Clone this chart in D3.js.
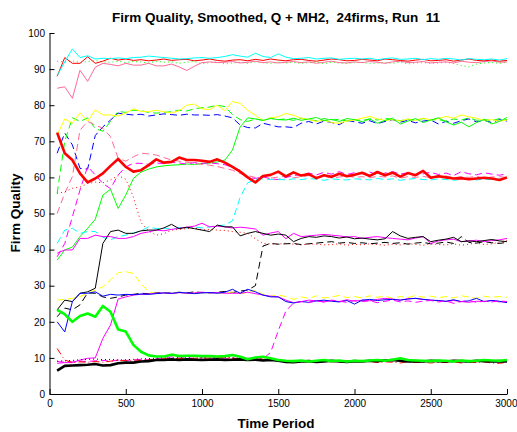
<!DOCTYPE html>
<html><head><meta charset="utf-8">
<script src="https://cdn.jsdelivr.net/npm/d3@7/dist/d3.min.js"></script>
<style>
body{margin:0;background:#fff;}
text{font-family:"Liberation Sans",Arial,Helvetica,sans-serif;}
</style></head>
<body><svg id="chart" width="517" height="432"></svg>
<script>
// ---------- DATA ----------
const timePeriods = [50,100,150,200,250,300,350,400,450,500,550,600,650,700,750,800,850,900,950,1000,
 1050,1100,1150,1200,1250,1300,1350,1400,1450,1500,1550,1600,1650,1700,1750,1800,1850,1900,1950,2000,
 2050,2100,2150,2200,2250,2300,2350,2400,2450,2500,2550,2600,2650,2700,2750,2800,2850,2900,2950,3000];
const xTicks = [0,500,1000,1500,2000,2500,3000];
const yTicks = [0,10,20,30,40,50,60,70,80,90,100];

const cyanSolid = [88.2,92.0,95.6,93.2,93.7,92.8,93.0,92.9,93.1,92.9, 93.2,93.3,93.6,93.4,93.2,93.0,92.8,92.9,93.1,93.2,
 93.0,93.2,93.5,94.0,93.6,93.3,94.4,93.5,93.2,94.2, 93.3,92.9,93.0,93.2,92.8,93.0,93.1,92.7,92.9,93.0,
 92.8,93.0,92.6,92.9,93.1,92.7,92.8,93.0,92.6,92.9, 92.7,93.0,92.8,92.5,92.9,92.7,92.6,92.8,92.5,92.9];
const redSolid = [88.0,93.2,91.6,91.6,93.4,91.6,92.2,93.0,92.5,92.8, 92.4,92.6,92.3,92.5,92.8,92.4,92.6,92.7,92.3,92.5,
 92.8,92.4,92.2,92.5,92.6,92.3,92.7,92.4,92.8,92.5, 92.3,92.6,92.7,92.4,92.2,92.5,92.8,92.6,92.3,92.4,
 92.7,92.5,92.3,92.8,92.6,92.4,92.2,92.5,92.7,92.3, 92.4,92.6,92.2,92.5,92.8,92.4,92.3,92.5,92.2,92.4];
const pinkSolid = [84.7,85.1,81.9,89.7,86.6,90.5,91.6,91.3,90.9,91.6, 91.1,91.1,91.6,90.9,90.9,91.4,90.6,89.6,90.8,91.8,
 92.0,91.8,91.9,92.1,91.7,91.9,92.2,91.8,92.0,91.7, 91.9,92.1,91.8,92.0,91.6,91.9,92.2,91.8,91.7,92.0,
 91.8,92.1,91.9,91.6,92.0,92.2,91.8,91.9,92.1,91.7, 91.9,92.0,91.7,92.2,91.9,91.8,92.1,92.3,91.9,92.0];
const greenDotted = [92.2,92.0,92.3,91.8,92.1,92.4,92.0,91.9,92.2,91.8, 92.1,92.0,91.7,92.2,91.9,92.0,91.6,91.9,92.1,91.5,
 91.8,92.0,91.4,91.7,91.9,91.6,92.0,91.8,91.5,91.9, 91.7,91.9,91.6,91.8,92.0,91.5,91.9,91.7,91.6,91.8,
 91.9,91.5,91.7,91.8,91.6,91.9,91.4,91.7,91.8,91.6, 91.7,91.9,91.5,91.0,90.6,91.4,91.7,91.8,91.6,91.9];

const yellowSolid = [71.7,76.2,75.0,77.9,75.5,78.7,77.3,77.3,77.0,77.8, 79.0,78.3,78.2,78.6,78.2,77.8,78.5,80.0,80.3,79.0,
 78.8,80.0,78.5,81.0,80.5,78.6,77.2,75.7,76.5,76.8, 77.7,77.2,76.4,76.0,75.5,75.8,75.2,75.0,75.6,75.9,
 76.4,76.9,76.2,75.8,76.0,75.6,76.2,75.8,76.4,75.9, 76.3,76.9,76.4,77.3,76.8,76.4,75.8,76.0,75.6,75.9];
const greenDashed = [55.6,70.0,76.5,75.5,76.5,73.5,72.8,75.5,78.3,78.0, 78.6,78.5,78.0,77.8,78.0,78.2,78.6,78.4,79.0,79.3,
 79.5,80.0,79.6,77.4,76.0,75.5,76.2,75.8,76.5,76.0, 76.2,75.8,76.4,76.0,75.7,76.3,75.9,76.1,75.6,76.0,
 75.8,76.2,75.9,76.4,76.0,75.7,76.1,75.8,76.3,75.9, 76.0,75.6,76.2,75.9,76.5,75.8,76.1,75.7,76.3,76.0];
const blueDashed = [66.7,72.3,69.0,62.5,62.3,71.6,74.0,75.9,77.8,77.5, 77.3,77.5,77.0,77.3,77.6,77.4,77.2,77.5,77.3,77.3,
 77.2,77.4,77.0,76.5,74.5,73.8,73.7,75.0,74.5,74.0, 74.0,73.8,75.0,75.5,74.8,75.6,75.2,74.6,75.8,75.4,
 75.0,75.7,74.9,75.5,76.0,75.3,75.8,75.1,75.6,75.9, 74.8,75.5,75.0,75.7,76.2,75.4,75.8,75.2,76.0,75.6];
const greenSolid = [37.1,39.9,40.7,43.6,45.9,48.4,55.1,56.7,51.4,55.1, 59.7,61.5,62.3,62.9,63.2,63.4,63.5,63.7,63.6,63.8,
 64.0,64.3,64.8,67.6,74.0,76.5,76.2,75.8,76.3,76.0, 75.9,76.4,75.8,76.2,76.6,75.7,76.1,75.5,76.3,76.0,
 75.4,76.2,75.0,75.8,76.4,74.8,75.6,76.3,75.2,75.9, 76.5,75.4,74.5,75.3,74.0,75.2,76.0,74.8,75.5,76.6];

const redThick = [72.4,66.7,64.8,61.1,58.6,59.7,61.1,63.2,65.1,62.9, 61.6,62.0,63.4,65.0,64.1,64.3,65.5,64.8,64.8,64.6,
 64.3,65.0,64.1,62.9,61.6,60.0,58.6,60.4,60.7,61.6, 60.3,61.4,60.5,60.9,59.8,60.6,60.2,61.0,60.3,60.7,
 61.3,60.4,61.5,60.6,61.3,60.2,61.2,60.6,61.8,59.9, 60.3,60.0,59.7,59.8,59.5,59.7,59.9,59.7,59.3,60.0];
const magentaDashedA = [38.0,41.7,49.1,56.5,63.0,60.7,58.3,56.9,60.7,62.9, 63.9,63.9,63.6,64.0,63.8,64.2,64.0,63.7,64.1,63.9,
 64.0,63.8,63.5,62.8,62.0,60.0,59.7,60.2,59.6,59.4, 60.0,60.5,60.8,61.2,60.7,61.4,60.9,61.6,60.8,61.3,
 61.0,61.5,60.7,61.2,61.6,60.9,61.3,60.6,61.0,61.4, 60.8,61.2,60.5,61.6,61.0,60.7,61.3,60.9,60.6,61.0];
const cyanDashed = [41.7,45.4,45.9,44.5,45.0,45.0,43.4,42.7,43.6,44.0, 44.6,45.2,46.3,45.8,46.0,45.6,46.1,45.9,46.3,46.0,
 46.3,46.6,46.8,48.0,54.5,58.5,59.5,59.6,59.4,59.5, 59.3,59.6,59.4,59.7,59.5,59.2,59.6,59.4,59.3,59.6,
 59.5,59.3,59.7,59.4,59.6,59.2,59.5,59.7,59.4,59.3, 59.6,59.4,59.2,59.5,59.7,59.3,59.5,59.4,59.6,59.5];
const pinkDashed = [50.0,55.6,60.2,73.1,75.5,74.5,73.6,71.3,65.3,64.5, 65.7,66.7,66.5,66.2,65.5,64.8,64.5,64.2,63.9,63.6,
 63.4,63.0,62.5,62.0,61.1,60.5,60.0,60.2,59.8,60.1, 60.3,59.9,60.2,60.5,60.0,60.3,59.8,60.1,60.4,60.0,
 60.2,59.9,60.3,60.1,60.4,59.8,60.2,60.0,60.3,59.9, 60.1,60.4,59.9,60.2,60.0,60.3,59.8,60.1,60.2,60.0];

const blackSolid = [23.3,26.0,25.6,27.9,28.3,29.3,41.7,45.0,45.4,44.5, 44.5,45.2,45.4,45.4,46.0,47.0,45.8,46.2,45.8,45.4,
 45.0,46.8,46.3,46.3,43.8,44.5,45.0,44.5,44.0,44.3, 44.0,42.2,43.1,43.6,43.4,43.8,43.6,43.2,43.5,43.0,
 43.2,42.9,42.7,43.0,45.0,43.8,43.1,43.4,43.6,42.2, 42.6,42.9,43.4,42.2,42.4,42.2,42.5,42.8,42.4,42.2];
const magentaSolidA = [39.0,39.9,39.9,43.1,43.1,44.0,43.6,43.6,43.1,43.1, 43.6,44.5,44.9,45.4,45.2,45.6,45.9,46.2,46.5,47.3,
 46.3,46.5,46.3,46.0,46.2,46.0,45.7,44.0,44.6,45.0, 43.0,44.5,43.6,43.8,44.0,44.2,44.0,43.8,43.5,43.6,
 43.1,43.4,43.6,43.3,43.1,42.9,42.7,43.2,43.6,41.7, 42.4,42.7,42.9,42.2,42.4,42.6,42.2,42.5,42.7,43.1];
const redDotted = [55.6,56.0,57.0,57.3,58.3,58.7,58.5,59.3,60.5,59.5, 54.6,47.5,45.2,44.0,44.4,45.4,45.6,45.8,46.0,45.5,
 45.6,45.4,45.3,45.0,44.8,44.5,43.0,41.7,41.6,41.5, 41.8,41.5,41.3,41.6,41.5,41.3,41.4,41.6,41.2,41.5,
 41.3,41.6,41.4,41.2,41.5,41.3,41.7,41.4,41.2,41.6, 41.4,41.3,41.6,41.2,41.5,41.8,41.4,41.6,42.0,42.6];
const blackDashed = [21.4,23.8,23.3,24.7,28.0,27.9,26.9,26.5,26.9,27.4, 27.6,27.9,27.8,28.0,28.1,27.9,28.2,28.0,28.3,28.1,
 28.0,28.2,28.4,28.1,28.5,28.8,30.0,41.0,41.7,41.5, 41.6,41.7,41.4,41.6,41.8,42.0,42.2,41.8,42.0,41.7,
 41.9,41.6,41.8,42.0,41.7,41.9,41.5,41.8,42.0,41.6, 41.8,42.1,41.7,43.6,42.0,41.8,42.2,41.9,41.7,42.0];

const blueSolid = [20.0,17.2,25.6,27.9,27.9,28.3,27.1,27.6,27.4,27.6, 27.5,27.7,27.6,27.8,28.0,27.9,28.1,28.0,27.8,28.0,
 28.1,27.9,28.2,29.0,27.9,29.0,28.3,27.4,26.9,26.9, 25.6,25.2,25.6,25.4,25.8,26.0,25.7,25.5,25.9,24.9,
 26.0,26.2,25.9,26.1,26.2,26.0,26.3,26.5,26.2,26.0, 25.9,25.7,26.1,25.6,25.8,26.5,25.6,25.9,25.7,25.3];
const magentaSolidB = [8.5,8.7,8.7,9.4,9.9,10.0,15.4,19.1,26.3,26.9, 27.4,27.6,27.7,27.9,28.0,27.8,28.1,27.9,28.0,28.2,
 28.0,28.1,27.9,27.9,27.9,28.2,27.8,27.4,27.1,26.9, 26.0,25.3,25.6,26.0,25.8,25.5,25.9,25.6,26.1,25.7,
 26.0,25.8,26.2,26.5,26.3,26.0,26.4,26.5,26.2,26.0, 25.8,25.6,25.9,25.6,25.4,25.7,25.6,25.9,25.5,25.6];
const yellowDashed = [26.0,26.2,26.5,27.0,27.9,28.8,29.7,31.6,33.6,33.9, 33.4,30.5,28.3,27.8,28.0,27.9,28.1,27.8,28.0,27.9,
 28.1,27.9,28.0,28.2,27.8,28.0,28.8,27.6,27.1,27.4, 27.0,26.2,26.9,26.5,27.2,26.6,26.9,27.3,26.7,27.0,
 26.6,27.2,26.8,27.1,26.5,27.0,26.7,27.3,26.8,27.1, 26.7,27.0,26.6,27.2,26.9,26.5,27.1,26.8,27.0,26.8];
const magentaDashedB = [9.0,8.8,8.9,9.1,9.0,9.2,9.3,9.1,9.4,9.3, 9.4,9.6,9.5,9.8,10.0,10.3,9.9,10.1,9.8,10.0,
 9.9,10.1,9.8,10.0,9.7,9.9,10.0,9.8,11.5,17.5, 23.0,25.2,25.6,25.3,25.8,25.5,26.0,25.7,25.4,25.9,
 25.6,25.8,25.3,25.7,26.0,25.5,25.8,25.4,25.7,25.9, 25.5,25.8,25.1,25.6,25.9,25.4,25.7,25.5,25.8,25.6];

const greenThick = [23.3,22.1,20.0,21.6,22.3,21.4,24.4,22.8,17.9,17.3, 13.6,11.7,10.7,10.4,10.4,10.9,10.5,10.6,10.6,10.5,
 10.5,10.4,10.5,10.8,10.3,9.6,10.1,10.3,9.9,9.4, 9.2,9.1,9.3,9.0,9.2,9.4,9.1,9.3,9.0,9.2,
 9.1,9.3,9.4,9.2,9.5,9.9,9.4,9.3,9.2,9.1, 9.3,9.2,9.0,9.3,9.1,9.2,9.4,9.3,9.2,9.4];
const blackThick = [6.5,7.8,7.9,8.0,8.1,8.3,7.9,8.0,8.5,8.7, 8.7,9.0,9.1,9.4,9.4,9.6,9.4,9.6,9.5,9.4,
 9.5,9.6,9.4,9.5,9.6,9.4,9.5,9.3,9.4,9.2, 8.9,8.8,9.0,9.1,8.9,9.0,9.2,9.0,8.9,9.1,
 9.0,9.2,9.1,9.3,9.4,9.2,9.0,9.1,9.0,9.2, 9.1,9.0,9.2,9.1,9.0,9.2,9.1,9.0,9.1,9.0];
const redDashDot = [12.6,9.4,8.7,8.9,8.8,9.0,8.8,9.1,9.3,9.2, 9.4,9.3,9.5,9.6,9.8,9.7,9.9,9.8,9.9,10.0,
 9.9,10.1,10.0,9.9,9.8,9.7,9.8,9.6,9.5,9.4, 9.2,9.0,9.1,8.9,9.0,9.1,8.9,9.0,8.8,9.0,
 8.9,9.0,8.7,8.9,8.8,8.6,8.9,8.7,8.8,8.6, 8.8,8.7,8.9,8.6,8.8,8.7,8.9,8.6,8.5,8.8];
const blackDotted = [9.1,9.2,9.3,9.5,9.6,9.7,9.5,9.6,9.4,9.5, 9.6,9.7,9.8,9.9,10.0,9.9,10.1,10.0,9.9,10.0,
 10.0,9.9,10.1,10.0,9.9,9.8,9.9,9.7,9.6,9.5, 9.3,9.2,9.3,9.1,9.2,9.3,9.1,9.2,9.0,9.2,
 9.1,9.2,9.0,9.1,9.2,9.0,9.1,9.2,9.0,9.1, 9.2,9.0,9.1,9.2,9.0,9.1,9.2,9.0,9.1,9.2];

// ---------- STYLE ----------
const DASH = "7,4", DOT = "1,3", DASHDOT = "7,3,1,3";
const series = [
  {v: greenDotted, c: "#00ff00", d: DOT, w: 1},
  {v: pinkSolid, c: "#ff6a98", d: null, w: 1},
  {v: redSolid, c: "#ff0000", d: null, w: 1},
  {v: cyanSolid, c: "#00ffff", d: null, w: 1},
  {v: blueDashed, c: "#0000ff", d: DASH, w: 1},
  {v: greenDashed, c: "#00ff00", d: DASH, w: 1},
  {v: yellowSolid, c: "#ffff00", d: null, w: 1},
  {v: greenSolid, c: "#00ff00", d: null, w: 1},
  {v: pinkDashed, c: "#ff6a98", d: DASH, w: 1},
  {v: magentaDashedA, c: "#ff00ff", d: DASH, w: 1},
  {v: cyanDashed, c: "#00ffff", d: DASH, w: 1},
  {v: redDotted, c: "#ff0000", d: DOT, w: 1},
  {v: blackDashed, c: "#000000", d: DASH, w: 1},
  {v: magentaSolidA, c: "#ff00ff", d: null, w: 1},
  {v: blackSolid, c: "#000000", d: null, w: 1},
  {v: yellowDashed, c: "#ffff00", d: DASH, w: 1},
  {v: magentaSolidB, c: "#ff00ff", d: null, w: 1},
  {v: blueSolid, c: "#0000ff", d: null, w: 1},
  {v: magentaDashedB, c: "#ff00ff", d: DASH, w: 1},
  {v: blackDotted, c: "#000000", d: DOT, w: 1},
  {v: redDashDot, c: "#ff0000", d: DASHDOT, w: 1},
  {v: blackThick, c: "#000000", d: null, w: 2.6},
  {v: greenThick, c: "#00ff00", d: null, w: 2.6},
  {v: redThick, c: "#ff0000", d: null, w: 2.6}
];

// ---------- CHART ----------
const svg = d3.select("#chart");
const m = {l: 49.5, r: 10, t: 33, b: 38};
const W = 517, H = 432;
const x = d3.scaleLinear().domain([0, 3000]).range([m.l, W - m.r]);
const y = d3.scaleLinear().domain([0, 100]).range([H - m.b, m.t]);

const line = d3.line().x((d, i) => x(timePeriods[i])).y(d => y(d));
svg.append("g").selectAll("path").data(series).join("path")
  .attr("d", s => line(s.v))
  .attr("fill", "none")
  .attr("stroke", s => s.c)
  .attr("stroke-width", s => s.w)
  .attr("stroke-dasharray", s => s.d)
  .attr("stroke-linejoin", "round");

const xAxis = svg.append("g").attr("transform", `translate(0,${H - m.b})`)
  .call(d3.axisBottom(x).tickValues(xTicks).tickFormat(d3.format("d")).tickSizeInner(-5).tickSizeOuter(0).tickPadding(6));
const yAxis = svg.append("g").attr("transform", `translate(${m.l},0)`)
  .call(d3.axisLeft(y).tickValues(yTicks).tickFormat(d3.format("d")).tickSizeInner(-5).tickSizeOuter(0).tickPadding(4.5));
[xAxis, yAxis].forEach(g => {
  g.selectAll("text").attr("font-size", 10).attr("fill", "#000")
    .style("font-family", '"Liberation Sans",Arial,Helvetica,sans-serif');
  g.selectAll("line,path").attr("stroke", "#000");
});
// keep the last x label inside the window
xAxis.selectAll(".tick text").filter(d => d === 3000).attr("text-anchor", "end").attr("dx", "11");
xAxis.selectAll(".tick text").filter(d => d === 3000).attr("dx", null).attr("x", 10);

svg.append("text").attr("x", 276).attr("y", 22).attr("text-anchor", "middle")
  .attr("font-size", 13.5).attr("font-weight", "bold").style("white-space", "pre")
  .text("Firm Quality, Smoothed, Q + MH2,  24firms, Run  11");
svg.append("text").attr("x", 276).attr("y", 427.5).attr("text-anchor", "middle")
  .attr("font-size", 13.5).attr("font-weight", "bold").text("Time Period");
svg.append("text").attr("transform", "translate(20,213) rotate(-90)").attr("text-anchor", "middle")
  .attr("font-size", 13.5).attr("font-weight", "bold").text("Firm Quality");
</script></body></html>
